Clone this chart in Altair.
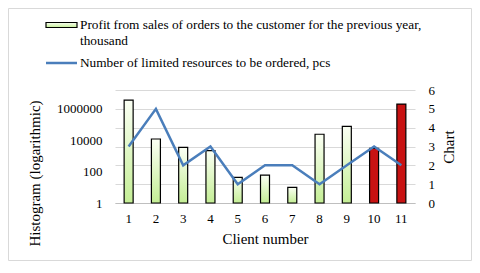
import altair as alt
import pandas as pd

clients = [1, 2, 3, 4, 5, 6, 7, 8, 9, 10, 11]
profit = [3600000, 12000, 3500, 2150, 43, 60, 10, 24000, 77000, 3000, 2000000]
resources = [3, 5, 2, 3, 1, 2, 2, 1, 2, 3, 2]
highlighted = [False] * 9 + [True, True]
left_ticks = [1, 100, 10000, 1000000]
right_ticks = [0, 1, 2, 3, 4, 5, 6]
legend_bar = ["Profit from sales of orders to the customer for the previous year,", "thousand"]
legend_line = "Number of limited resources to be ordered, pcs"

df = pd.DataFrame({"client": clients, "profit": profit, "res": resources, "hl": highlighted})

FONT = "Liberation Serif"
W, H = 300, 113

green = alt.Gradient(
    gradient="linear",
    stops=[alt.GradientStop(offset=0, color="#fbfff4"), alt.GradientStop(offset=1, color="#c4ee95")],
    x1=0, x2=0, y1=0, y2=1,
)

xenc = alt.X("client:O", title="Client number",
             scale=alt.Scale(paddingInner=0, paddingOuter=0),
             axis=alt.Axis(labelAngle=0, ticks=False, domainColor="#bfbfbf", labelPadding=9,
                           titlePadding=6, titleFontSize=15))

yleft = alt.Y("profit:Q", title="Histogram (logarithmic)",
              scale=alt.Scale(type="log", domain=[1, 10 ** 7.2], nice=False),
              axis=alt.Axis(values=left_ticks, format="d", grid=False, ticks=False, domain=False,
                            labelPadding=13, titleFontSize=15, titleY=83, titleX=-73))

base = alt.Chart(df)

bars_g = base.transform_filter("!datum.hl").mark_bar(size=9, fill=green, stroke="black", strokeWidth=1.2).encode(
    x=xenc, y=yleft, y2=alt.datum(1))
bars_r = base.transform_filter("datum.hl").mark_bar(size=9, fill="#c81212", stroke="black", strokeWidth=1.2).encode(
    x="client:O", y="profit:Q", y2=alt.datum(1))

left = alt.layer(bars_g, bars_r)

line = base.mark_line(color="#4a7ebb", strokeWidth=2.5).encode(
    x="client:O",
    y=alt.Y("res:Q", title="Chart", scale=alt.Scale(domain=[0, 6], nice=False),
            axis=alt.Axis(orient="right", values=right_ticks, grid=True, gridColor="#d9d9d9",
                          ticks=False, domain=False, labelPadding=13, titleAngle=270,
                          titleFontSize=15, titlePadding=22)),
)

one = alt.Chart(alt.Data(values=[{}]))
sw_bar = one.mark_rect(fill=green, stroke="black", strokeWidth=1.2).encode(
    x=alt.value(-69), x2=alt.value(-38), y=alt.value(-67.5), y2=alt.value(-62.5))
sw_line = one.mark_rule(color="#4a7ebb", strokeWidth=2.5).encode(
    x=alt.value(-69), x2=alt.value(-38), y=alt.value(-27))
t1 = one.mark_text(align="left", baseline="middle", font=FONT, fontSize=13.3, color="black").encode(
    x=alt.value(-35), y=alt.value(-65), text=alt.value(legend_bar[0]))
t2 = one.mark_text(align="left", baseline="middle", font=FONT, fontSize=13.3, color="black").encode(
    x=alt.value(-35), y=alt.value(-49), text=alt.value(legend_bar[1]))
t3 = one.mark_text(align="left", baseline="middle", font=FONT, fontSize=13.3, color="black").encode(
    x=alt.value(-35), y=alt.value(-27), text=alt.value(legend_line))
border = one.mark_rect(fill=None, stroke="#d9d9d9", strokeWidth=1).encode(
    x=alt.value(-106.5), x2=alt.value(356.5), y=alt.value(-81.5), y2=alt.value(170.5))

chart = alt.layer(left, line, sw_bar, sw_line, t1, t2, t3, border).resolve_scale(y="independent").properties(
    width=W, height=H,
    autosize=alt.AutoSizeParams(type="none"),
    padding={"left": 107, "right": 57, "top": 82, "bottom": 58},
).configure_view(stroke=None).configure_axis(
    labelFont=FONT, titleFont=FONT, labelFontSize=13, labelColor="black", titleColor="black",
    titleFontWeight="normal",
)

chart.save("out.html", embed_options={"renderer": "svg", "actions": False})
